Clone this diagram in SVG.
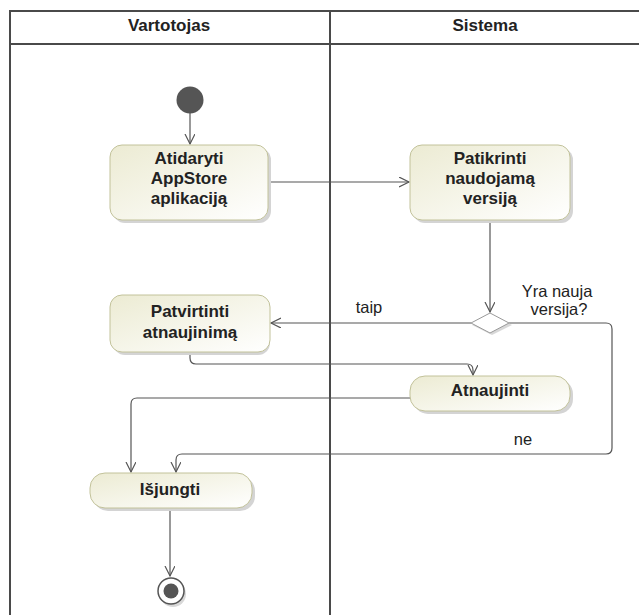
<svg xmlns="http://www.w3.org/2000/svg" width="639" height="615" viewBox="0 0 639 615">
<style>
.lane{fill:none;stroke:#4a4a4a;stroke-width:2}
.hdr{font-family:"Liberation Sans",Arial,sans-serif;font-weight:bold;font-size:17px;fill:#222;text-anchor:middle}
.nt{font-family:"Liberation Sans",Arial,sans-serif;font-weight:bold;font-size:17px;fill:#222;text-anchor:middle}
.lbl{font-family:"Liberation Sans",Arial,sans-serif;font-size:16.5px;fill:#222;text-anchor:middle}
.node{fill:url(#g);stroke:#c2c29a;stroke-width:1}
.sh{fill:#d4d4d4}
.c{fill:none;stroke:#555;stroke-width:1.2}
</style>
<defs>
<linearGradient id="g" x1="0" y1="0" x2="1" y2="1">
<stop offset="0" stop-color="#ecebd3"/>
<stop offset="1" stop-color="#ffffff"/>
</linearGradient>
<marker id="a" markerWidth="12" markerHeight="12" refX="10" refY="5" orient="auto" markerUnits="userSpaceOnUse">
<path d="M0,0 L10,5 L0,10" fill="none" stroke="#555" stroke-width="1.2"/>
</marker>
</defs>
<rect x="0" y="0" width="639" height="615" fill="#fff"/>
<g id="lanes">
<path class="lane" d="M10,620 V11 H640 M10,44 H640 M330,11 V620"/>
<text class="hdr" x="169" y="31">Vartotojas</text>
<text class="hdr" x="485" y="31">Sistema</text>
</g>
<g id="connectors">
<path class="c" d="M190,113 V144" marker-end="url(#a)"/>
<path class="c" d="M270,182 H409" marker-end="url(#a)"/>
<path class="c" d="M490,220 V312" marker-end="url(#a)"/>
<path class="c" d="M471,323 H271" marker-end="url(#a)"/>
<path class="c" d="M509,323 H606 Q612,323 612,329 V448 Q612,454 606,454 H182 Q176,454 176,460 V472" marker-end="url(#a)"/>
<path class="c" d="M190,352 V358 Q190,364 196,364 H467 Q473,364 473,370 V375" marker-end="url(#a)"/>
<path class="c" d="M410,398 H137 Q131,398 131,404 V472" marker-end="url(#a)"/>
<path class="c" d="M170,508 V576" marker-end="url(#a)"/>
<text class="lbl" x="369" y="313">taip</text>
<text class="lbl" x="557" y="297">Yra nauja</text>
<text class="lbl" x="559" y="315">versija?</text>
<text class="lbl" x="523" y="445">ne</text>
</g>
<g id="start">
<circle cx="190" cy="100" r="13.5" fill="#555"/>
</g>
<g id="n1">
<rect class="sh" x="113" y="148" width="158" height="75" rx="12"/>
<rect class="node" x="110" y="145" width="158" height="75" rx="12"/>
<text class="nt" x="189" y="164">Atidaryti</text>
<text class="nt" x="189" y="184">AppStore</text>
<text class="nt" x="189" y="204">aplikaciją</text>
</g>
<g id="n2">
<rect class="sh" x="413" y="148" width="160" height="75" rx="12"/>
<rect class="node" x="410" y="145" width="160" height="75" rx="12"/>
<text class="nt" x="490" y="164">Patikrinti</text>
<text class="nt" x="490" y="184">naudojamą</text>
<text class="nt" x="490" y="204">versiją</text>
</g>
<g id="decision">
<polygon points="492,315 512,325 492,335 472,325" fill="#d8d8d8"/>
<polygon points="490,313 509,323 490,333 471,323" fill="#fff" stroke="#999" stroke-width="1"/>
</g>
<g id="n3">
<rect class="sh" x="113" y="298" width="157" height="57" rx="12"/>
<rect class="node" x="110" y="295" width="160" height="57" rx="12"/>
<text class="nt" x="190" y="317">Patvirtinti</text>
<text class="nt" x="190" y="338">atnaujinimą</text>
</g>
<g id="n4">
<rect class="sh" x="413" y="379" width="160" height="35" rx="15"/>
<rect class="node" x="410" y="376" width="160" height="35" rx="15"/>
<text class="nt" x="490" y="396">Atnaujinti</text>
</g>
<g id="n5">
<rect class="sh" x="93" y="476" width="162" height="35" rx="15"/>
<rect class="node" x="90" y="473" width="162" height="35" rx="15"/>
<text class="nt" x="170" y="495">Išjungti</text>
</g>
<g id="final">
<circle cx="173" cy="594" r="13" fill="#d8d8d8"/>
<circle cx="171" cy="591" r="13" fill="#fff" stroke="#555" stroke-width="1.5"/>
<circle cx="171" cy="591" r="7.5" fill="#555"/>
</g>
</svg>
